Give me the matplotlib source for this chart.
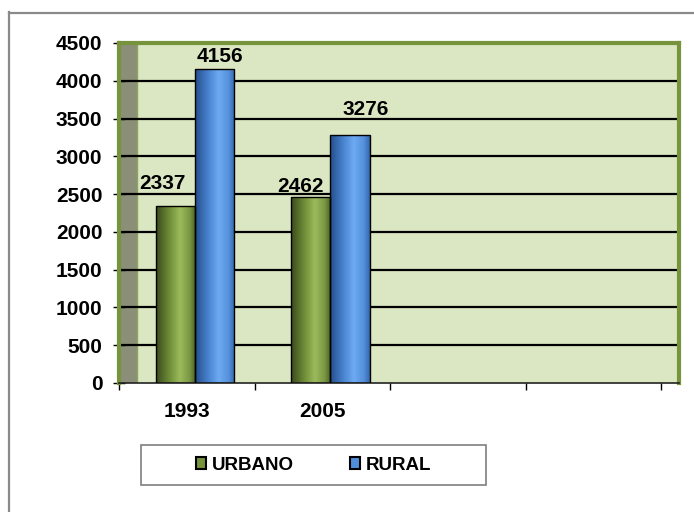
import numpy as np
import matplotlib
matplotlib.use("Agg")
import matplotlib.pyplot as plt
from matplotlib.colors import LinearSegmentedColormap
from matplotlib.patches import Rectangle, Patch
from matplotlib.lines import Line2D

# data
years = ["1993", "2005"]
n_slots = 4  # category slots on the axis (last two empty)
series = ["URBANO", "RURAL"]
urbano = [2337, 2462]
rural = [4156, 3276]
yticks = [0, 500, 1000, 1500, 2000, 2500, 3000, 3500, 4000, 4500]

# label nudges in pixels (dx, dy) relative to bar top
lbl_off_urb = [(-13, 23), (-10, 10)]
lbl_off_rur = [(5, 12), (16, 26)]

W, H = 694, 512
C_GREEN, C_BLUE = "#77933c", "#4f8fda"
BG, WALL = "#dbe7c3", "#8b8f78"
FS = 15
FS_LEG = 13.5

plt.rcParams["font.family"] = ["Liberation Sans", "DejaVu Sans"]

green_cm = LinearSegmentedColormap.from_list(
    "g", [(0, "#3b4b1c"), (0.35, "#71903a"), (0.6, "#9cbb5c"), (0.85, "#7a9843"), (1, "#4b6024")])
blue_cm = LinearSegmentedColormap.from_list(
    "b", [(0, "#244f8c"), (0.35, "#4b86d2"), (0.6, "#6eaaf2"), (0.85, "#5592dc"), (1, "#3468ad")])

fig = plt.figure(figsize=(W / 100, H / 100), dpi=100)
ax = fig.add_axes([119 / W, 1 - 383 / H, (679 - 119) / W, (383 - 43) / H])
xmax = -0.5 + 560 / 135.5

ax.set_facecolor(BG)
ax.add_patch(Rectangle((-0.5, 0), 0.13, 4500, fc=WALL, ec="#8aa65a", lw=1, zorder=0.5))
ax.hlines(yticks[1:-1], -0.5, xmax, colors="black", lw=1.6, zorder=1)

bw, shift = 0.29, 0.06
x = np.arange(len(years))
grad = np.linspace(0, 1, 64).reshape(1, -1)


def shaded_bars(xc, vals, cmap, offs):
    bars = ax.bar(xc, vals, width=bw, fc="none", ec="black", lw=1, zorder=3)
    for b, v, (dx, dy) in zip(bars, vals, offs):
        x0 = b.get_x()
        im = ax.imshow(grad, cmap=cmap, extent=(x0, x0 + bw, 0, v), aspect="auto", zorder=2)
        im.set_clip_path(b)
        ax.annotate(str(v), xy=(x0 + bw / 2, v), xytext=(dx * 0.72, dy * 0.72),
                    textcoords="offset points", ha="center", va="center",
                    fontsize=FS, fontweight="bold", zorder=4)


shaded_bars(x + shift - bw / 2, urbano, green_cm, lbl_off_urb)
shaded_bars(x + shift + bw / 2, rural, blue_cm, lbl_off_rur)

ax.set_xlim(-0.5, xmax)
ax.set_ylim(0, 4500)

for s in ("top", "right", "left"):
    ax.spines[s].set_color(C_GREEN)
    ax.spines[s].set_linewidth(3)
ax.spines["bottom"].set_color("#222222")
ax.spines["bottom"].set_linewidth(1.2)

ax.set_yticks(yticks)
ax.set_yticklabels([str(t) for t in yticks], fontsize=FS, fontweight="bold")
ax.tick_params(axis="y", direction="inout", length=8, width=1, color="black", pad=8)

ax.set_xticks(np.arange(n_slots + 1) - 0.5)
ax.set_xticklabels([""] * (n_slots + 1))
ax.tick_params(axis="x", which="major", direction="out", length=5, width=1, color="black")
ax.set_xticks(x, minor=True)
ax.set_xticklabels(years, minor=True, fontsize=FS, fontweight="bold")
ax.tick_params(axis="x", which="minor", length=0, pad=14)

# legend
handles = [Patch(fc=C_GREEN, ec="black", lw=1.5), Patch(fc=C_BLUE, ec="black", lw=1.5)]
fig.legend(handles, series, loc="center", bbox_to_anchor=(313.5 / W, 1 - 465 / H), ncol=2,
           frameon=False, prop={"size": FS_LEG, "weight": "bold"}, handlelength=0.55,
           handleheight=0.55, handletextpad=0.3, columnspacing=3.0)
fig.add_artist(Rectangle((141 / W, 1 - 485 / H), 345 / W, 40 / H, transform=fig.transFigure,
                         fill=False, ec="#7f7f7f", lw=1.2))

# outer chart border (only top and left visible)
fig.add_artist(Line2D([8.5 / W, 8.5 / W], [0, 1 - 12 / H], color="#8a8a8a", lw=1.6))
fig.add_artist(Line2D([8.5 / W, 1], [1 - 12.5 / H, 1 - 12.5 / H], color="#8a8a8a", lw=1.6))

fig.savefig("out.png", dpi=100)
